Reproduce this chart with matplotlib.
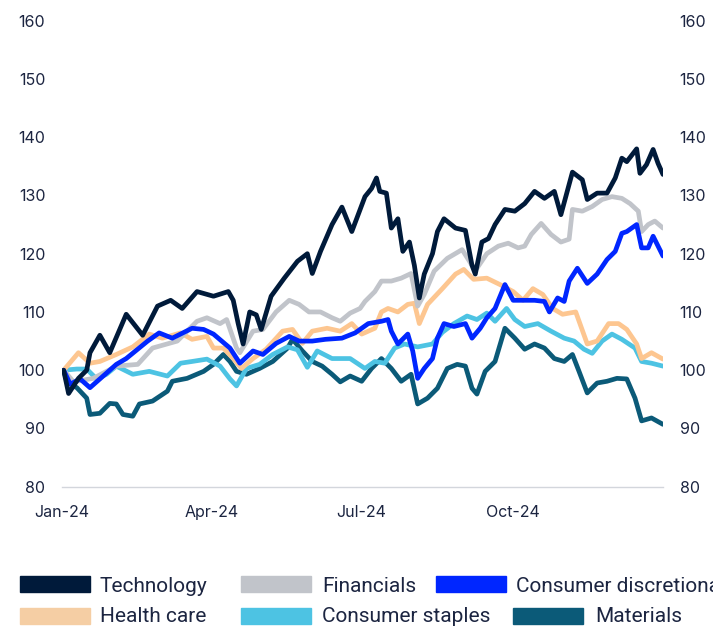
import pandas as pd
import matplotlib
matplotlib.use('Agg')
import matplotlib.pyplot as plt
import matplotlib.dates as mdates
from matplotlib.patches import Rectangle

# index levels, 1 Jan 2024 = 100 (x = days since 1 Jan 2024)
tech_days = [1, 4, 10, 15, 17, 23, 29, 39, 49, 58, 66, 73, 82, 92, 101, 104, 107, 110, 114, 118,
             121, 127, 135, 143, 149, 152, 157, 164, 170, 176, 184, 188, 191, 193, 197, 200, 204, 207, 211, 214,
             217, 220, 225, 228, 232, 239, 245, 249, 251, 255, 259, 263, 269, 275, 281, 287, 293, 299, 303, 310,
             316, 319, 325, 331, 336, 340, 343, 349, 351, 355, 359, 362, 365]
tech_vals = [100, 96, 98.6, 100, 103, 106, 103, 109.6, 106, 111, 112, 110.6, 113.5, 112.7, 113.5, 112, 108, 104.5, 110, 109.5,
             107, 112.7, 115.8, 118.7, 120, 116.6, 120.4, 125, 128, 123.8, 129.8, 131.2, 133, 130.7, 130.4, 124.4, 126, 120.4, 122, 118,
             112.4, 116.5, 120, 123.8, 126, 124.4, 124, 118, 116.5, 122, 122.6, 125, 127.6, 127.3, 128.6, 130.7, 129.5, 130.7, 126.7, 134,
             132.7, 129.3, 130.4, 130.4, 133, 136.4, 135.8, 138, 133.8, 135.3, 137.9, 135.5, 133.6]

fin_days = [1, 7, 19, 33, 46, 55, 70, 82, 88, 96, 100, 106, 108, 116, 122, 130, 138, 144, 150, 157,
            164, 169, 175, 181, 184, 190, 194, 200, 206, 212, 216, 220, 226, 234, 243, 249, 252, 258, 265, 271,
            277, 281, 285, 291, 297, 303, 308, 310, 316, 322, 328, 334, 340, 345, 350, 352, 356, 360, 365]
fin_vals = [100, 98, 98.6, 100.7, 101, 103.8, 105, 108.4, 109, 108, 108.7, 103.8, 103, 106.7, 107, 110, 112, 111.3, 110, 110,
            109, 108.4, 109.8, 110.6, 111.8, 113.5, 115.3, 115.3, 115.8, 116.6, 111, 113, 117, 119.2, 120.7, 118, 117.5, 120, 121.3, 121.8,
            121, 121.3, 123.3, 125.2, 123.3, 122, 122.5, 127.6, 127.3, 128.1, 129.3, 129.8, 129.5, 128.6, 127.3, 123.8, 125, 125.6, 124.4]

disc_days = [1, 5, 11, 17, 23, 33, 39, 52, 59, 67, 79, 86, 92, 102, 108, 116, 122, 130, 138, 144,
             152, 160, 170, 178, 186, 194, 198, 200, 204, 210, 213, 216, 220, 225, 228, 232, 238, 245, 249, 254,
             258, 263, 269, 274, 279, 287, 293, 296, 301, 305, 308, 313, 319, 325, 331, 336, 340, 343, 349, 352,
             356, 359, 365]
disc_vals = [100, 97.6, 98.5, 97, 98.5, 101, 102, 105, 106.4, 105.5, 107.2, 107, 106.2, 103.8, 101.2, 103.3, 102.7, 104.6, 105.8, 105,
             105, 105.3, 105.5, 106.4, 108, 108.4, 108.7, 106.7, 104.5, 106.2, 103.3, 98.6, 100.3, 102, 105.5, 108, 107.5, 108, 105.5, 107.2,
             109, 110.6, 114.7, 112, 112, 112, 111.8, 110, 112.4, 111.8, 115.3, 117.5, 114.9, 116.5, 119, 120.4, 123.5, 123.8, 125, 121,
             121, 123, 119.6]

hc_days = [1, 10, 17, 23, 33, 43, 53, 61, 72, 79, 88, 92, 98, 104, 109, 116, 124, 134, 140, 146,
           152, 161, 169, 176, 182, 190, 194, 198, 204, 210, 214, 217, 222, 231, 239, 244, 250, 258, 266, 274,
           280, 286, 292, 298, 304, 312, 319, 325, 332, 338, 343, 349, 352, 358, 365]
hc_vals = [100, 103, 101.2, 101.5, 102.7, 104, 106.2, 105.5, 106.4, 105.3, 105.8, 103.8, 103.8, 102, 100.3, 102, 103.6, 106.7, 107, 104.6,
           106.7, 107.2, 106.7, 108, 106.2, 107.2, 110, 110.6, 110, 111.3, 111.5, 108, 111.3, 114, 116.5, 117.3, 115.6, 115.8, 114.7, 113.5,
           112, 114, 113, 110.6, 109.6, 110, 104.5, 105, 108, 108, 107, 104.5, 102, 103, 101.9]

st_days = [1, 9, 15, 21, 27, 33, 43, 53, 64, 72, 79, 88, 96, 102, 106, 112, 120, 128, 137, 143,
           149, 155, 164, 175, 184, 190, 196, 202, 208, 216, 225, 231, 238, 246, 252, 258, 263, 270, 275, 281,
           289, 297, 305, 311, 317, 322, 328, 334, 340, 348, 352, 358, 365]
st_vals = [100, 100.2, 100.2, 98.5, 99.3, 100.7, 99.3, 99.8, 99, 101.2, 101.5, 101.9, 100.7, 98.5, 97.3, 100.3, 101, 102.7, 104, 103.5,
           100.5, 103.3, 102, 102, 100.3, 101.5, 101.2, 103.8, 104.5, 104, 104.5, 106.5, 108, 109.3, 108.7, 109.8, 108.4, 110.6, 108.7, 107.5,
           108, 106.7, 105.5, 105, 103.6, 102.9, 105, 106.2, 105.3, 103.8, 101.5, 101.2, 100.7]

mat_days = [1, 3, 9, 15, 17, 23, 29, 33, 37, 43, 47, 55, 64, 67, 76, 86, 92, 98, 102, 106,
            112, 120, 128, 137, 140, 146, 152, 158, 164, 169, 175, 182, 188, 194, 200, 206, 212, 216, 222, 228,
            234, 240, 245, 249, 252, 257, 263, 269, 275, 281, 287, 293, 299, 305, 310, 314, 319, 325, 331, 337,
            343, 348, 352, 358, 365]
mat_vals = [100, 98, 97, 95.2, 92.4, 92.6, 94.3, 94.2, 92.4, 92.1, 94.2, 94.7, 96.4, 98.1, 98.6, 99.8, 101, 102.7, 101.5, 99.8,
            99.3, 100.3, 101.5, 103.8, 105.3, 103.3, 101.5, 100.7, 99.3, 98, 99, 98.1, 100.3, 102, 100.3, 98.1, 99.3, 94.2, 95.2, 96.9,
            100.3, 101, 100.7, 96.9, 95.9, 99.8, 101.5, 107.2, 105.5, 103.6, 104.5, 103.8, 102, 101.5, 102.7, 99.8, 96.1, 97.8, 98.1, 98.6,
            98.5, 95.2, 91.3, 91.8, 90.7]

names = ["Technology", "Financials", "Consumer discretionary",
         "Health care", "Consumer staples", "Materials"]
line_colors = ["#001a3a", "#c1c4ca", "#0026ff", "#fdc690", "#4dc3e3", "#0b5a78"]
patch_colors = ["#001a3a", "#c1c4ca", "#0026ff", "#f5cea4", "#4dc3e3", "#0b5a78"]
series = [(tech_days, tech_vals), (fin_days, fin_vals), (disc_days, disc_vals),
          (hc_days, hc_vals), (st_days, st_vals), (mat_days, mat_vals)]

start = pd.Timestamp("2024-01-01")
text_col = "#1c2541"
tick_font = ["Inter", "DejaVu Sans"]

W, H = 713, 626
fig = plt.figure(figsize=(W / 100, H / 100), dpi=100)
ax = fig.add_axes([62 / W, 1 - 486.7 / H, 601 / W, 466 / H])

# draw back to front so technology sits on top
draw_order = [5, 4, 3, 1, 2, 0]
for i in draw_order:
    d, v = series[i]
    x = start + pd.to_timedelta(d, unit="D")
    ax.plot(x, v, color=line_colors[i], lw=3.4, solid_joinstyle="round",
            solid_capstyle="round")

ax.set_ylim(80, 160)
ax.set_yticks(range(80, 161, 10))
ax.set_xlim(start, pd.Timestamp("2024-12-31"))
ax.set_xticks(pd.to_datetime(["2024-01-01", "2024-04-01", "2024-07-01", "2024-10-01"]))
ax.xaxis.set_major_formatter(mdates.DateFormatter("%b-%y"))

for s in ["top", "left", "right"]:
    ax.spines[s].set_visible(False)
ax.spines["bottom"].set_color("#d3d6dc")
ax.spines["bottom"].set_linewidth(1.0)

ax.tick_params(axis="y", length=0, pad=12, labelleft=True, labelright=True,
               labelsize=11.5, labelcolor=text_col)
ax.tick_params(axis="x", length=0, pad=13, labelsize=11.5, labelcolor=text_col)
for lab in ax.get_xticklabels() + ax.get_yticklabels():
    lab.set_family(tick_font)
for t in ax.yaxis.get_major_ticks():
    t.label2.set_family(tick_font)

# legend drawn by hand: two rows of colour blocks (pixel positions of the reference)
legend_pos = [(20, 576, 100, 591.7), (241, 576, 322, 591.7), (436, 576, 516, 591.7),
              (20, 607.7, 100, 622.3), (241, 607.7, 322, 622.3), (513, 607.7, 595, 622.3)]
for i, (px, ptop, tx, base) in enumerate(legend_pos):
    fig.patches.append(Rectangle((px / W, 1 - (ptop + 16) / H), 70 / W, 16 / H,
                                 transform=fig.transFigure, color=patch_colors[i]))
    fig.text(tx / W, 1 - base / H, names[i], ha="left", va="baseline", fontsize=15,
             color=text_col, family=["Roboto", "DejaVu Sans"])

fig.savefig("out.png", dpi=100)
